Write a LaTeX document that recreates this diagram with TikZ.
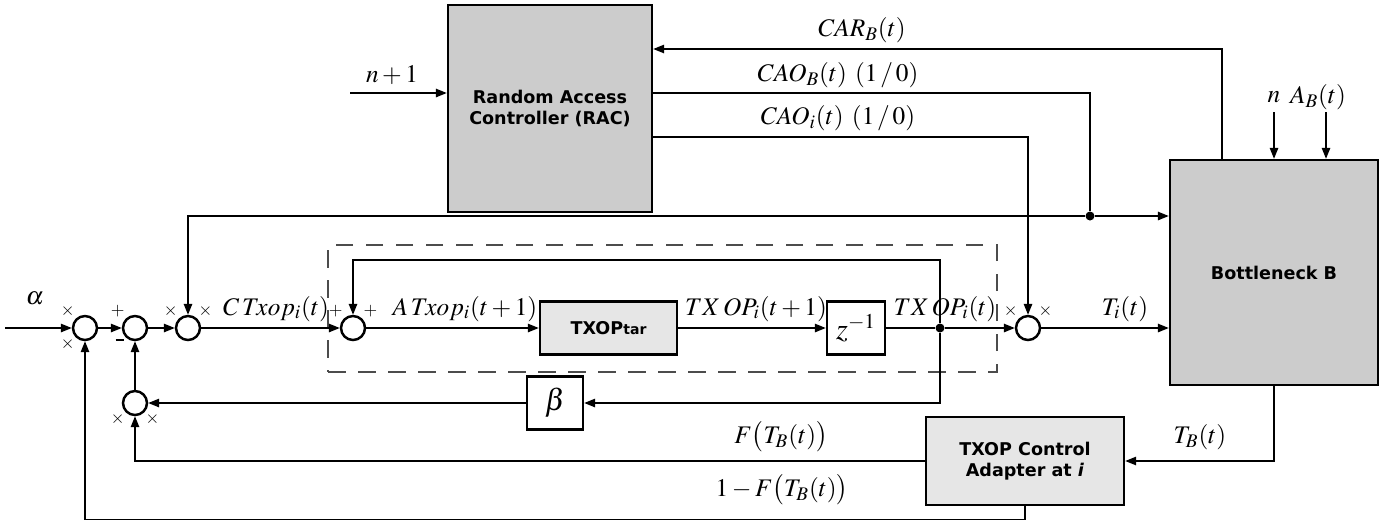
\documentclass[tikz,border=0pt]{standalone}
\usepackage{mathptmx}
\usepackage{fontspec}
\newfontfamily\boxfont{DejaVu Sans}
\usetikzlibrary{arrows.meta}
\definecolor{racc}{RGB}{204,204,204}
\definecolor{tarc}{RGB}{230,230,230}
\tikzset{
  blk/.style={draw=black, line width=1.4pt, align=center, inner sep=2pt, font=\boxfont\bfseries},
  dark/.style={blk, fill=racc},
  light/.style={blk, fill=tarc},
  plain/.style={draw=black, line width=1.4pt, font=\LARGE},
  sum/.style={circle, draw=black, line width=1.4pt, minimum size=4.8mm, inner sep=0pt},
  sgn/.style={font=\normalsize, inner sep=0.5pt},
  sig/.style={-{Triangle[length=2.2mm,width=1.7mm]}, line width=0.8pt},
  wire/.style={line width=0.8pt},
  lbl/.style={font=\Large},
  onwire/.style={lbl, anchor=base},
  dot/.style={circle, fill=black, minimum size=1.8mm, inner sep=0pt},
  frame/.style={draw=black!70, line width=0.9pt, dash pattern=on 3.5mm off 2.5mm}
}

\begin{document}
\begin{tikzpicture}
  \useasboundingbox (0,0) rectangle (27.92,-10.44);
  % blocks
  \node[dark, minimum width=4.08cm, minimum height=4.14cm] (rac) at (11.0,-2.17) {Random Access\\Controller (RAC)};
  \node[dark, minimum width=4.16cm, minimum height=4.5cm] (bott) at (25.48,-5.45) {Bottleneck B};
  \node[light, minimum width=3.96cm, minimum height=1.76cm] (adapt) at (20.5,-9.22) {TXOP Control\\Adapter at \textit{i}};
  \node[frame, minimum width=13.38cm, minimum height=2.54cm] (inner) at (13.25,-6.17) {};
  \node[light, minimum width=2.74cm, minimum height=1.06cm] (tar) at (12.17,-6.56) {TXOP{\footnotesize tar}};
  \node[plain, minimum width=1.16cm, minimum height=1.06cm] (zinv) at (17.12,-6.56) {$z^{-1}$};
  \node[plain, minimum width=1.12cm, minimum height=1.06cm] (beta) at (11.1,-8.06) {$\beta$};

  % summing points
  \node[sum, label={[sgn]135:$\times$}, label={[sgn]225:$\times$}] (s1) at (1.7,-6.56) {};
  \node[sum, label={[sgn]135:$+$}, label={[sgn]225:\rule[2pt]{5pt}{1.5pt}}] (s2) at (2.7,-6.56) {};
  \node[sum, label={[sgn]135:$\times$}, label={[sgn]45:$\times$}] (s3) at (3.76,-6.56) {};
  \node[sum, label={[sgn]225:$\times$}, label={[sgn]-45:$\times$}] (s4) at (2.7,-8.06) {};
  \node[sum, label={[sgn]135:$+$}, label={[sgn]45:$+$}] (s5) at (7.06,-6.56) {};
  \node[sum, label={[sgn]135:$\times$}, label={[sgn]45:$\times$}] (s6) at (20.56,-6.56) {};
  \node[dot] (j1) at (18.8,-6.56) {};
  \node[dot] (j2) at (21.8,-4.32) {};

  \coordinate (ain) at (0.1,-6.56);
  \coordinate (nin) at (7.0,-1.86);
  \coordinate (ntop) at (25.48,-2.24);
  \coordinate (abtop) at (26.52,-2.24);

  % labels
  \node[lbl] (alab) at (0.7,-5.96) {$\alpha$};
  \node[lbl] (nlab) at (7.84,-1.5) {$n+1$};
  \node[lbl] (carlab) at (17.24,-0.6) {$CAR_B(t)$};
  \node[lbl] (caoblab) at (16.76,-1.5) {$CAO_B(t)\ (1\,/\,0)$};
  \node[lbl] (caoilab) at (16.76,-2.36) {$CAO_i(t)\ (1\,/\,0)$};
  \node[lbl] (nblab) at (25.48,-1.94) {$n$};
  \node[lbl] (ablab) at (26.36,-1.94) {$A_B(t)$};
  \node[onwire] (ctlab) at (5.52,-6.3) {$C\,T\!xop_i(t)$};
  \node[onwire] (atlab) at (9.3,-6.3) {$A\,T\!xop_i(t+1)$};
  \node[onwire] (tnlab) at (15.12,-6.3) {$TX\,OP_i(t+1)$};
  \node[onwire] (tlab) at (18.9,-6.3) {$TX\,OP_i(t)$};
  \node[onwire] (tilab) at (22.5,-6.3) {$T_i(t)$};
  \node[lbl] (tblab) at (24.0,-8.74) {$T_B(t)$};
  \node[lbl] (flab) at (15.62,-8.74) {$F\bigl(T_B(t)\bigr)$};
  \node[lbl] (gflab) at (15.64,-9.8) {$1-F\bigl(T_B(t)\bigr)$};

  % forward path
  \draw[sig] (ain) -- (s1);
  \draw[sig] (s1) -- (s2);
  \draw[sig] (s2) -- (s3);
  \draw[sig] (s3) -- (s5);
  \draw[sig] (s5) -- (tar);
  \draw[sig] (tar) -- (zinv);
  \draw[wire] (zinv) -- (j1);
  \draw[sig] (j1) -- (s6);
  \draw[sig] (s6) -- (s6 -| bott.west);
  % inner loops
  \draw[sig] (j1) -- ++(0,1.36) -| (s5);
  \draw[sig] (j1) |- (beta);
  \draw[sig] (beta) -- (s4);
  \draw[sig] (s4) -- (s2);
  % RAC and bottleneck
  \draw[sig] (nin) -- (rac.west |- nin);
  \draw[sig] ([xshift=-1.04cm]bott.north) |- (rac.east |- 0,-0.98);
  \draw[wire] (rac.east |- 0,-1.86) -| (j2);
  \draw[sig] (j2) -- (bott.west |- j2);
  \draw[sig] (j2) -| (s3);
  \draw[sig] (rac.east |- 0,-2.74) -| (s6);
  \draw[sig] (ntop) -- (ntop |- bott.north);
  \draw[sig] (abtop) -- (abtop |- bott.north);
  % adapter feedback
  \draw[sig] (bott.south) |- (adapt);
  \draw[sig] (adapt) -| (s4);
  \draw[sig] (adapt.south) -- ++(0,-0.26) -| (s1);
\end{tikzpicture}
\end{document}
